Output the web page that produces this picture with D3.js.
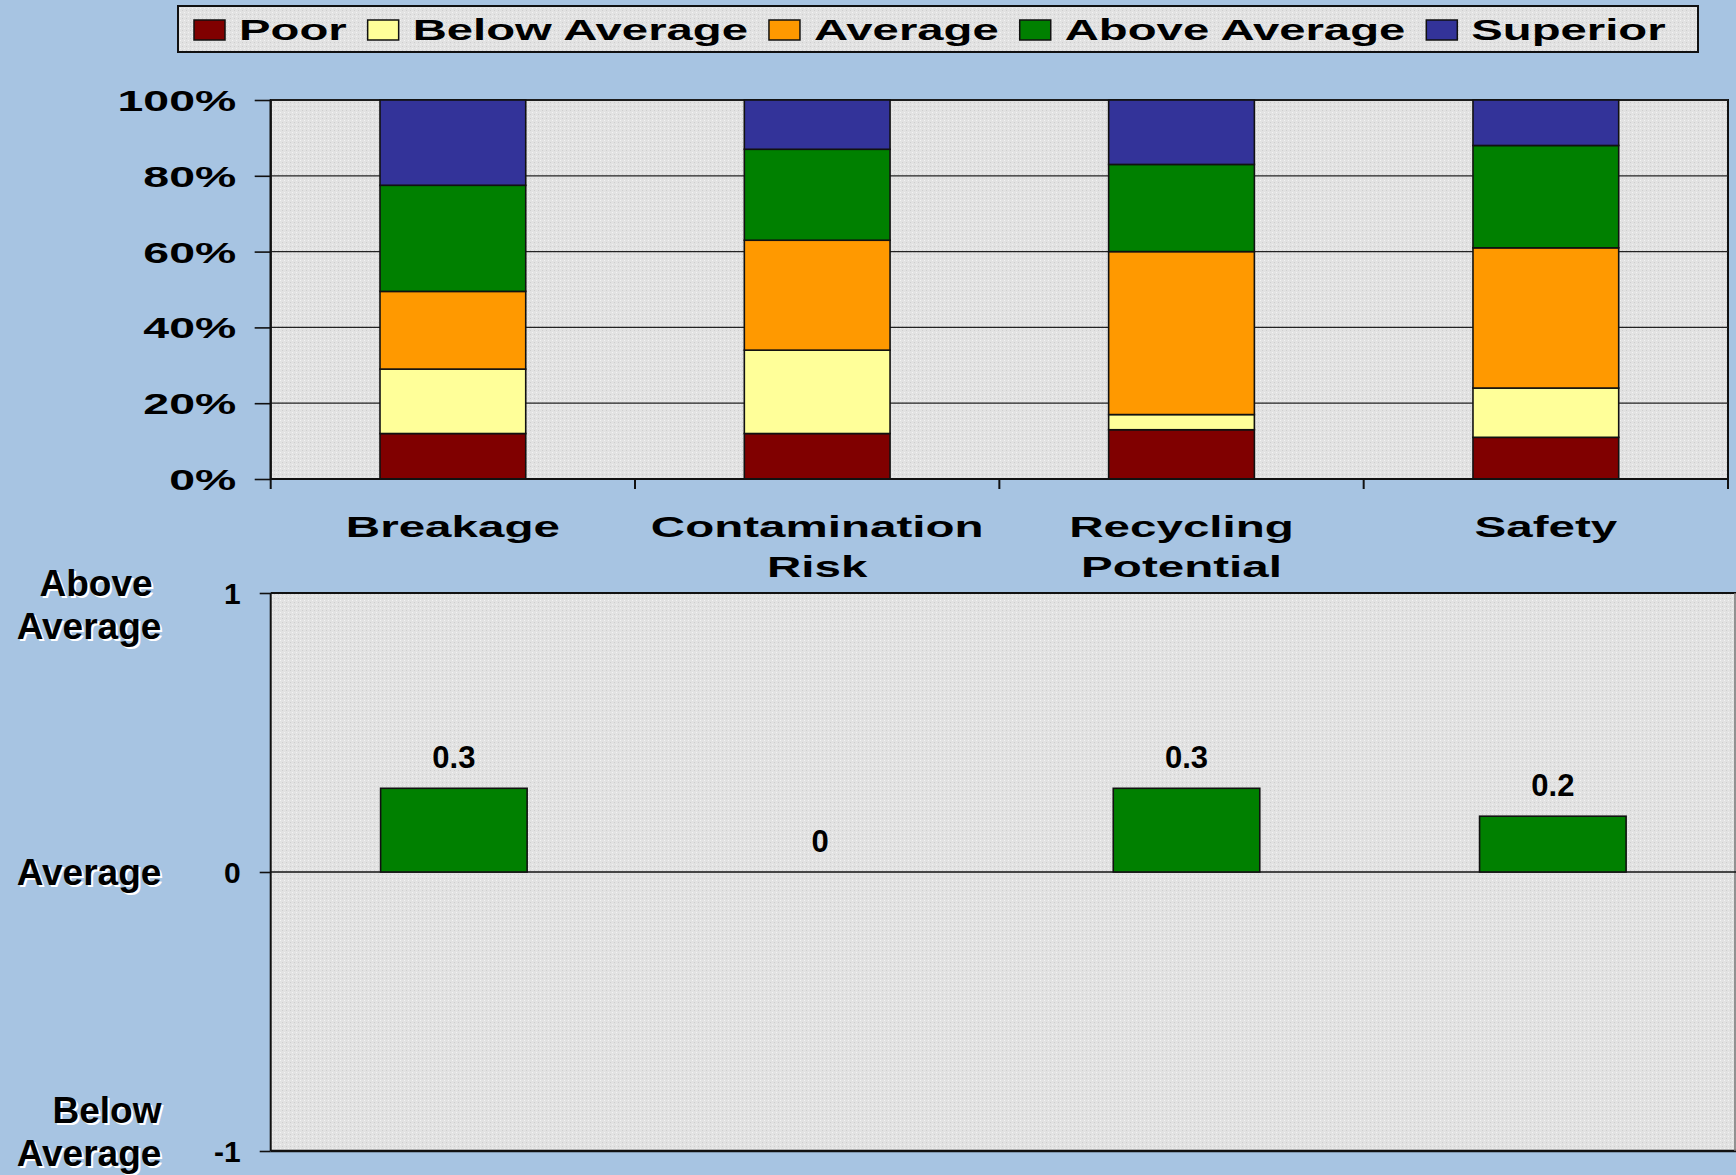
<!DOCTYPE html>
<html>
<head>
<meta charset="utf-8">
<script src="https://cdn.jsdelivr.net/npm/d3@7"></script>
<style>
	body { margin: 0; background: #a7c4e2; }
	svg { display: block; font-family: "Liberation Sans", Arial, sans-serif; font-weight: bold; }
</style>
</head>
<body>
<svg id="chart" width="1736" height="1175"></svg>
<script>

// ---- data ----
var categories = ['Breakage', 'Contamination Risk', 'Recycling Potential', 'Safety'];
var categoryLines = [['Breakage'], ['Contamination', 'Risk'], ['Recycling', 'Potential'], ['Safety']];
var ratingNames = ['Poor', 'Below Average', 'Average', 'Above Average', 'Superior'];
var ratingColors = ['#800000', '#ffff99', '#ff9900', '#008000', '#333399'];

// share of answers (%) per rating, one value per category
var poor         = [12,   12, 13, 11];
var belowAverage = [17,   22,  4, 13];
var average      = [20.5, 29, 43, 37];
var aboveAverage = [28,   24, 23, 27];
var superior     = [22.5, 13, 17, 12];

// mean score, -1 (below average) .. 1 (above average)
var scoreValues = [0.3, 0, 0.3, 0.2];

var pctTicks = [0, 0.2, 0.4, 0.6, 0.8, 1];
var scoreTicks = [-1, 0, 1];

// ---- layout ----
var svg = d3.select('#chart');
var sxTick = 1.6;       // the top chart text is drawn wide
var sxCat = 1.64;
var sxLeg = 1.63;
var left = 270.7;

var defs = svg.append('defs');
var pat = defs.append('pattern')
	.attr('id', 'dots')
	.attr('width', 4)
	.attr('height', 4)
	.attr('patternUnits', 'userSpaceOnUse');
pat.append('rect').attr('width', 4).attr('height', 4).attr('fill', '#e2e2e2');
pat.append('rect').attr('x', 0).attr('y', 0).attr('width', 1).attr('height', 1).attr('fill', '#f3f3f3');
pat.append('rect').attr('x', 2).attr('y', 2).attr('width', 1).attr('height', 1).attr('fill', '#cecece');

// ---- top chart: 100% stacked columns ----
var rows = categories.map(function(c, i) {
	return { cat: c, Poor: poor[i], 'Below Average': belowAverage[i], Average: average[i],
		'Above Average': aboveAverage[i], Superior: superior[i] };
});
var stack = d3.stack().keys(ratingNames).offset(d3.stackOffsetExpand);
var series = stack(rows);

var x1 = d3.scaleBand().domain(categories).range([left, 1728]).paddingInner(0.6).paddingOuter(0.3);
var xb1 = d3.scaleBand().domain(categories).range([left, 1728]);
var y1 = d3.scaleLinear().domain([0, 1]).range([479, 100]);

var g1 = svg.append('g');

g1.append('rect')
	.attr('x', left)
	.attr('y', y1(1))
	.attr('width', 1728 - left)
	.attr('height', y1(0) - y1(1))
	.attr('fill', 'url(#dots)')
	.attr('stroke', '#111')
	.attr('stroke-width', 2);

g1.selectAll('line.grid')
	.data(pctTicks.slice(1))
	.enter().append('line')
	.attr('class', 'grid')
	.attr('x1', left)
	.attr('x2', 1728)
	.attr('y1', function(d) { return y1(d); })
	.attr('y2', function(d) { return y1(d); })
	.attr('stroke', '#222')
	.attr('stroke-width', 1.3);

g1.selectAll('g.layer')
	.data(series)
	.enter().append('g')
	.attr('class', 'layer')
	.attr('fill', function(d, i) { return ratingColors[i]; })
	.selectAll('rect')
	.data(function(d) { return d; })
	.enter().append('rect')
	.attr('x', function(d) { return x1(d.data.cat); })
	.attr('width', x1.bandwidth())
	.attr('y', function(d) { return y1(d[1]); })
	.attr('height', function(d) { return y1(d[0]) - y1(d[1]); })
	.attr('stroke', '#111')
	.attr('stroke-width', 1.6);

var yAxis1 = g1.append('g')
	.attr('transform', 'translate(' + left + ',0)')
	.call(d3.axisLeft(y1).tickValues(pctTicks).tickFormat(d3.format('.0%')).tickSize(16).tickSizeOuter(0));
yAxis1.select('.domain').remove();
yAxis1.selectAll('line').attr('stroke', '#111').attr('stroke-width', 1.6);
yAxis1.selectAll('text')
	.attr('x', -34.5 / sxTick)
	.attr('dy', '0.36em')
	.attr('transform', 'scale(' + sxTick + ',1)')
	.style('font-size', '29px')
	.style('font-family', '"Liberation Sans", Arial, sans-serif')
	.attr('fill', '#000');

// axis lines
g1.append('line')
	.attr('x1', left).attr('x2', left)
	.attr('y1', 100).attr('y2', 489)
	.attr('stroke', '#111').attr('stroke-width', 2);
g1.append('line')
	.attr('x1', left).attr('x2', 1728)
	.attr('y1', y1(0)).attr('y2', y1(0))
	.attr('stroke', '#111').attr('stroke-width', 2);

g1.selectAll('line.xtick')
	.data(categories)
	.enter().append('line')
	.attr('class', 'xtick')
	.attr('x1', function(d) { return xb1(d) + xb1.bandwidth(); })
	.attr('x2', function(d) { return xb1(d) + xb1.bandwidth(); })
	.attr('y1', y1(0))
	.attr('y2', y1(0) + 10)
	.attr('stroke', '#111')
	.attr('stroke-width', 2);

// category labels
categoryLines.forEach(function(lines, i) {
	var cx = xb1(categories[i]) + xb1.bandwidth() / 2;
	lines.forEach(function(t, k) {
		g1.append('text')
			.attr('transform', 'translate(' + cx + ',' + (537 + k * 40) + ') scale(' + sxCat + ',1)')
			.attr('text-anchor', 'middle')
			.style('font-size', '29px')
			.text(t);
	});
});

// legend
var lg = svg.append('g');
lg.append('rect')
	.attr('x', 178)
	.attr('y', 6)
	.attr('width', 1520)
	.attr('height', 46)
	.attr('fill', 'url(#dots)')
	.attr('stroke', '#111')
	.attr('stroke-width', 2);

var lx = 194;
ratingNames.forEach(function(name, i) {
	lg.append('rect')
		.attr('x', lx)
		.attr('y', 20)
		.attr('width', 31)
		.attr('height', 20)
		.attr('fill', ratingColors[i])
		.attr('stroke', '#111')
		.attr('stroke-width', 1.5);
	var t = lg.append('text')
		.attr('transform', 'translate(' + (lx + 45) + ',40) scale(' + sxLeg + ',1)')
		.style('font-size', '29px')
		.text(name);
	lx += 45 + t.node().getComputedTextLength() * sxLeg + 21;
});

// ---- bottom chart: mean score ----
var x2 = d3.scaleBand().domain(categories).range([left, 1736]).paddingInner(0.6).paddingOuter(0.3);
var y2 = d3.scaleLinear().domain([-1, 1]).range([1151, 593]);

var g2 = svg.append('g');

g2.append('rect')
	.attr('x', left)
	.attr('y', y2(1))
	.attr('width', 1736 - left)
	.attr('height', y2(-1) - y2(1))
	.attr('fill', 'url(#dots)');

g2.append('line')
	.attr('x1', left).attr('x2', 1736)
	.attr('y1', y2(1)).attr('y2', y2(1))
	.attr('stroke', '#111').attr('stroke-width', 2);
g2.append('line')
	.attr('x1', left).attr('x2', 1736)
	.attr('y1', y2(-1)).attr('y2', y2(-1))
	.attr('stroke', '#111').attr('stroke-width', 2.5);
g2.append('line')
	.attr('x1', 1735).attr('x2', 1735)
	.attr('y1', y2(1)).attr('y2', y2(-1))
	.attr('stroke', '#777').attr('stroke-width', 1.5);
g2.append('line')
	.attr('x1', left).attr('x2', left)
	.attr('y1', y2(1)).attr('y2', y2(-1))
	.attr('stroke', '#111').attr('stroke-width', 2);
g2.append('line')
	.attr('x1', left).attr('x2', 1736)
	.attr('y1', y2(0)).attr('y2', y2(0))
	.attr('stroke', '#111').attr('stroke-width', 1.6);

g2.selectAll('rect.bar')
	.data(scoreValues)
	.enter().append('rect')
	.attr('class', 'bar')
	.attr('x', function(d, i) { return x2(categories[i]); })
	.attr('width', x2.bandwidth())
	.attr('y', function(d) { return y2(Math.max(0, d)); })
	.attr('height', function(d) { return Math.abs(y2(d) - y2(0)); })
	.attr('fill', '#008000')
	.attr('stroke', '#111')
	.attr('stroke-width', 1.6)
	.style('display', function(d) { return d === 0 ? 'none' : null; });

g2.selectAll('text.val')
	.data(scoreValues)
	.enter().append('text')
	.attr('class', 'val')
	.attr('x', function(d, i) { return x2(categories[i]) + x2.bandwidth() / 2; })
	.attr('y', function(d) { return y2(Math.max(0, d)) - 20; })
	.attr('text-anchor', 'middle')
	.style('font-size', '31px')
	.text(function(d) { return d; });

var yAxis2 = g2.append('g')
	.attr('transform', 'translate(' + left + ',0)')
	.call(d3.axisLeft(y2).tickValues(scoreTicks).tickFormat(d3.format('d')).tickSize(11).tickPadding(19).tickSizeOuter(0));
yAxis2.select('.domain').remove();
yAxis2.selectAll('line').attr('stroke', '#111').attr('stroke-width', 1.6);
yAxis2.selectAll('text')
	.attr('dy', '0.36em')
	.style('font-size', '30px')
	.style('font-family', '"Liberation Sans", Arial, sans-serif')
	.attr('fill', '#000')
	.text(function(d) { return d < 0 ? '-' + Math.abs(d) : d; });

// rating words beside the score axis, with a white shadow
function shadowText(x, y, t, anchor) {
	g2.append('text')
		.attr('x', x + 2).attr('y', y + 2)
		.attr('text-anchor', anchor)
		.style('font-size', '37px')
		.attr('fill', '#fff')
		.text(t);
	g2.append('text')
		.attr('x', x).attr('y', y)
		.attr('text-anchor', anchor)
		.style('font-size', '37px')
		.attr('fill', '#000')
		.text(t);
}
shadowText(96, 596, 'Above', 'middle');
shadowText(89, 639, 'Average', 'middle');
shadowText(89, y2(0) + 13, 'Average', 'middle');
shadowText(107, 1123, 'Below', 'middle');
shadowText(89, 1166, 'Average', 'middle');

</script>
</body>
</html>
